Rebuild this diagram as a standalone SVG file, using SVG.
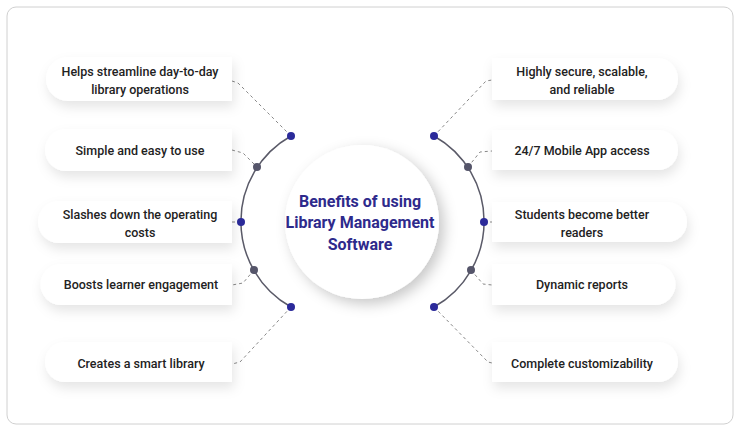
<svg xmlns="http://www.w3.org/2000/svg" width="740" height="431" viewBox="0 0 740 431">
<defs>
<filter id="sh" x="-20%" y="-40%" width="140%" height="200%">
<feDropShadow dx="2" dy="6" stdDeviation="6" flood-color="#000" flood-opacity="0.10"/>
</filter>
<filter id="csh" x="-30%" y="-30%" width="160%" height="160%">
<feDropShadow dx="5" dy="5" stdDeviation="7" flood-color="#000" flood-opacity="0.22"/>
</filter>
</defs>
<style>
.t{font-family:Roboto,"Liberation Sans",sans-serif;font-size:12.5px;font-weight:500;fill:#222;text-anchor:middle}
.h{font-family:Roboto,"Liberation Sans",sans-serif;font-size:16px;font-weight:700;fill:#2e2a8c;text-anchor:middle}
.card{fill:#fff;filter:url(#sh)}
.c{fill:none;stroke:#888;stroke-width:1;stroke-dasharray:3 3}
.arc{fill:none;stroke:#5a5a68;stroke-width:1.5}
.b{fill:#2b2a9a}
.g{fill:#55556a}
</style>
<rect x="7" y="7" width="726" height="417" rx="9" fill="#fff" stroke="#d0d0d0" stroke-width="1"/>

<g id="center">
<circle cx="362" cy="222" r="77" fill="#fff" filter="url(#csh)"/>
<text class="h" x="360" y="207">Benefits of using</text>
<text class="h" x="360" y="228">Library Management</text>
<text class="h" x="360" y="250">Software</text>
</g>

<g id="connectors">
<path class="arc" d="M291,136 A98,98 0 0 0 291,307"/>
<path class="arc" d="M434,136 A98,98 0 0 1 434,307"/>
<polyline class="c" points="232,81 238,83 291,136"/>
<polyline class="c" points="232,150 243,153 257,167"/>
<polyline class="c" points="232,222 241,222"/>
<polyline class="c" points="254,270 243,283 232,285"/>
<polyline class="c" points="291,307 240,362 232,364"/>
<polyline class="c" points="434,136 486,81 492,80"/>
<polyline class="c" points="468,167 480,152 492,151"/>
<polyline class="c" points="484,222 492,222"/>
<polyline class="c" points="471,270 483,284 492,285"/>
<polyline class="c" points="434,307 488,362 492,363"/>
<circle class="b" cx="291" cy="136" r="4"/>
<circle class="g" cx="257" cy="167" r="4"/>
<circle class="b" cx="241" cy="222" r="4"/>
<circle class="g" cx="254" cy="270" r="4"/>
<circle class="b" cx="291" cy="307" r="4"/>
<circle class="b" cx="434" cy="136" r="4"/>
<circle class="g" cx="468" cy="167" r="4"/>
<circle class="b" cx="484" cy="222" r="4"/>
<circle class="g" cx="471" cy="270" r="4"/>
<circle class="b" cx="434" cy="307" r="4"/>
</g>

<g id="l1"><path class="card" d="M232,57 H68 A22,22 0 0 0 68,101 H232 Z"/>
<text class="t" x="140" y="76">Helps streamline day-to-day</text>
<text class="t" x="140" y="94">library operations</text></g>
<g id="l2"><path class="card" d="M232,129 H66 A21,21 0 0 0 66,171 H232 Z"/>
<text class="t" x="140" y="155">Simple and easy to use</text></g>
<g id="l3"><path class="card" d="M232,201 H59 A21,21 0 0 0 59,243 H232 Z"/>
<text class="t" x="140" y="219">Slashes down the operating</text>
<text class="t" x="140" y="237">costs</text></g>
<g id="l4"><path class="card" d="M232,264 H61 A20.5,20.5 0 0 0 61,305 H232 Z"/>
<text class="t" x="141" y="289">Boosts learner engagement</text></g>
<g id="l5"><path class="card" d="M232,342 H65 A20,20 0 0 0 65,382 H232 Z"/>
<text class="t" x="141" y="368">Creates a smart library</text></g>

<g id="r1"><path class="card" d="M492,58 H657 A21,21 0 0 1 657,100 H492 Z"/>
<text class="t" x="582" y="76">Highly secure, scalable,</text>
<text class="t" x="582" y="94">and reliable</text></g>
<g id="r2"><path class="card" d="M492,130 H658 A20,20 0 0 1 658,170 H492 Z"/>
<text class="t" x="582" y="155">24/7 Mobile App access</text></g>
<g id="r3"><path class="card" d="M492,202 H667 A20,20 0 0 1 667,242 H492 Z"/>
<text class="t" x="582" y="219">Students become better</text>
<text class="t" x="582" y="237">readers</text></g>
<g id="r4"><path class="card" d="M492,264 H655 A20.5,20.5 0 0 1 655,305 H492 Z"/>
<text class="t" x="582" y="289">Dynamic reports</text></g>
<g id="r5"><path class="card" d="M492,342 H658 A20,20 0 0 1 658,382 H492 Z"/>
<text class="t" x="582" y="368">Complete customizability</text></g>
</svg>
